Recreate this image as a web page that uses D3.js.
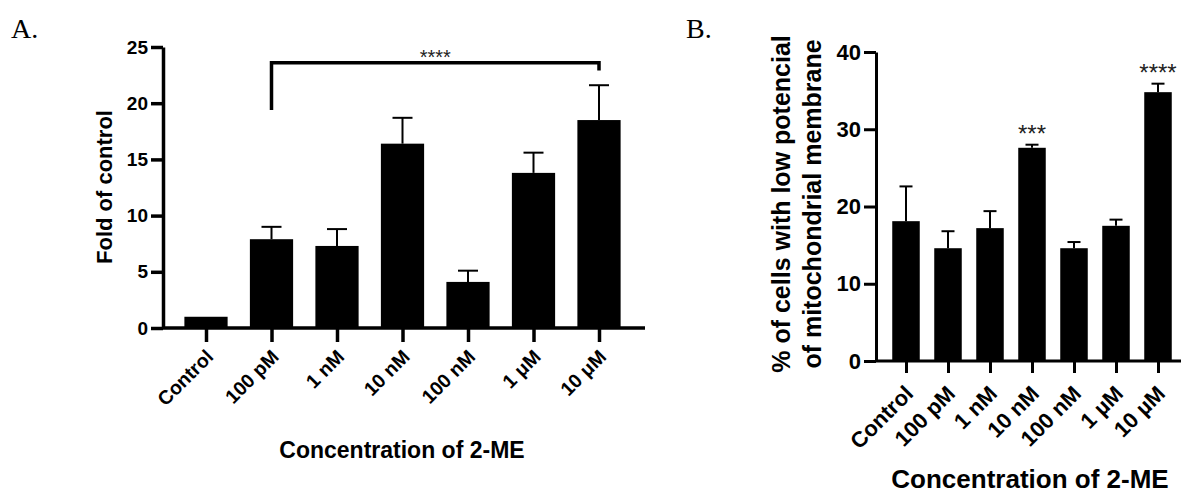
<!DOCTYPE html>
<html>
<head>
<meta charset="utf-8">
<script src="https://cdn.jsdelivr.net/npm/d3@7"></script>
<style>
  body { margin: 0; background: #fff; }
  svg { display: block; font-family: "Liberation Sans", Arial, sans-serif; }
  .panel-tag { font-family: "Liberation Serif", "Times New Roman", serif; }
</style>
</head>
<body>
<svg id="chart" width="1181" height="495"></svg>
<script>
// Shared categories
const categoriesA = ["Control", "100 pM", "1 nM", "10 nM", "100 nM", "1 \u03bcM", "10 \u03bcM"];
const categoriesB = ["Control", "100 pM", "1 nM", "10 nM", "100 nM", "1 \u00b5M", "10 \u00b5M"];

// Panel A: fold of control
const foldMean = [1.0, 7.9, 7.3, 16.4, 4.1, 13.8, 18.5];
const foldErr = [0, 1.1, 1.5, 2.3, 1.0, 1.8, 3.1];
const foldTicks = [0, 5, 10, 15, 20, 25];
// bracket: left leg height, bar height, right leg height
const bracketA = { from: "100 pM", to: "10 \u03bcM", heights: [19.4, 23.6, 22.9], label: "****" };

// Panel B: % of cells with low membrane potential
const lowPotMean = [18.1, 14.6, 17.2, 27.6, 14.6, 17.5, 34.8];
const lowPotErr = [4.5, 2.2, 2.2, 0.4, 0.8, 0.8, 1.1];
const lowPotTicks = [0, 10, 20, 30, 40];
const starsB = [{ cat: "10 nM", label: "***" }, { cat: "10 \u00b5M", label: "****" }];

const svg = d3.select("#chart");

function drawPanel(cfg) {
    const g = svg.append("g");
    const x = d3.scalePoint().domain(cfg.categories).range(cfg.xRange);
    const y = d3.scaleLinear().domain(cfg.yDomain).range(cfg.yRange);
    const barW = x.step() * cfg.barFrac;
    const rows = cfg.categories.map((c, i) => ({ cat: c, mean: cfg.mean[i], err: cfg.err[i] }));

    // bars
    g.selectAll("rect.bar").data(rows).join("rect")
        .attr("class", "bar")
        .attr("x", d => x(d.cat) - barW / 2)
        .attr("width", barW)
        .attr("y", d => y(d.mean))
        .attr("height", d => y(0) - y(d.mean))
        .attr("fill", "#000");

    // error bars (upper only)
    const eb = g.selectAll("g.err").data(rows.filter(d => d.err > 0)).join("g").attr("class", "err");
    eb.append("line")
        .attr("x1", d => x(d.cat)).attr("x2", d => x(d.cat))
        .attr("y1", d => y(d.mean)).attr("y2", d => y(d.mean + d.err))
        .attr("stroke", "#000").attr("stroke-width", cfg.errWidth);
    eb.append("line")
        .attr("x1", d => x(d.cat) - cfg.capW / 2).attr("x2", d => x(d.cat) + cfg.capW / 2)
        .attr("y1", d => y(d.mean + d.err)).attr("y2", d => y(d.mean + d.err))
        .attr("stroke", "#000").attr("stroke-width", cfg.errWidth);

    // y axis
    const yAxis = g.append("g")
        .attr("transform", `translate(${cfg.axisX},0)`)
        .call(d3.axisLeft(y).tickValues(cfg.ticks).tickSize(cfg.tickLen).tickSizeOuter(0).tickPadding(3));
    yAxis.select(".domain").attr("stroke", "#000").attr("stroke-width", cfg.axisWidth);
    yAxis.selectAll(".tick line").attr("stroke", "#000").attr("stroke-width", cfg.axisWidth);
    yAxis.selectAll(".tick text")
        .attr("fill", "#000")
        .style("font-size", cfg.tickFont + "px")
        .style("font-weight", "bold");

    // x axis
    g.append("line")
        .attr("x1", cfg.axisX).attr("x2", cfg.xAxisEnd)
        .attr("y1", y(0)).attr("y2", y(0))
        .attr("stroke", "#000").attr("stroke-width", cfg.axisWidth);
    const xAxis = g.append("g")
        .attr("transform", `translate(0,${y(0)})`)
        .call(d3.axisBottom(x).tickSize(cfg.xTickLen).tickSizeOuter(0));
    xAxis.select(".domain").remove();
    xAxis.selectAll(".tick line").attr("stroke", "#000").attr("stroke-width", cfg.axisWidth);
    xAxis.selectAll(".tick text")
        .attr("fill", "#000")
        .attr("text-anchor", "end")
        .attr("y", 0).attr("dy", 0)
        .attr("transform", `translate(${cfg.labelDx},${cfg.labelDy}) rotate(-45)`)
        .style("font-size", cfg.labelFont + "px")
        .style("font-weight", "bold");

    // axis titles
    g.append("text")
        .attr("x", cfg.xTitlePos[0]).attr("y", cfg.xTitlePos[1])
        .attr("text-anchor", "middle")
        .style("font-size", cfg.xTitleFont + "px").style("font-weight", "bold")
        .text("Concentration of 2-ME");
    cfg.yTitle.forEach((t, i) => {
        g.append("text")
            .attr("transform", `translate(${cfg.yTitlePos[0] + i * cfg.yTitleLead},${cfg.yTitlePos[1]}) rotate(-90)`)
            .attr("text-anchor", "middle")
            .style("font-size", cfg.yTitleFont + "px").style("font-weight", "bold")
            .text(t);
    });

    // panel tag
    g.append("text").attr("class", "panel-tag")
        .attr("x", cfg.tagPos[0]).attr("y", cfg.tagPos[1])
        .style("font-size", "28px")
        .text(cfg.tag);

    return { g, x, y };
}

const pA = drawPanel({
    categories: categoriesA, mean: foldMean, err: foldErr, ticks: foldTicks,
    xRange: [206, 599], yDomain: [0, 25], yRange: [328, 47], barFrac: 0.66,
    axisX: 163, xAxisEnd: 645, axisWidth: 3.5, tickLen: 12, xTickLen: 14,
    errWidth: 2, capW: 20, tickFont: 19,
    labelFont: 19.5, labelDx: 8, labelDy: 30,
    xTitlePos: [402, 458], xTitleFont: 23,
    yTitle: ["Fold of control"], yTitlePos: [112, 187], yTitleLead: 0, yTitleFont: 22,
    tag: "A.", tagPos: [11, 38]
});

// bracket for panel A
{
    const { g, x, y } = pA;
    const [h1, h2, h3] = bracketA.heights;
    const x1 = x(bracketA.from), x2 = x(bracketA.to);
    g.append("path")
        .attr("d", d3.line()([[x1, y(h1)], [x1, y(h2)], [x2, y(h2)], [x2, y(h3)]]))
        .attr("fill", "none").attr("stroke", "#000").attr("stroke-width", 3.5);
    g.append("text")
        .attr("x", (x1 + x2) / 2).attr("y", y(h2) + 1)
        .attr("text-anchor", "middle")
        .attr("fill", "#222")
        .style("font-size", "20px")
        .text(bracketA.label);
}

const pB = drawPanel({
    categories: categoriesB, mean: lowPotMean, err: lowPotErr, ticks: lowPotTicks,
    xRange: [906, 1158], yDomain: [0, 40], yRange: [361, 52], barFrac: 0.655,
    axisX: 876, xAxisEnd: 1181, axisWidth: 3, tickLen: 12, xTickLen: 12,
    errWidth: 2, capW: 13, tickFont: 22,
    labelFont: 22, labelDx: 8, labelDy: 34,
    xTitlePos: [1030, 488], xTitleFont: 26,
    yTitle: ["% of cells with low potencial", "of mitochondrial membrane"],
    yTitlePos: [790, 204], yTitleLead: 31, yTitleFont: 25,
    tag: "B.", tagPos: [686, 38]
});

// significance stars for panel B
{
    const { g, x, y } = pB;
    g.selectAll("text.star").data(starsB).join("text")
        .attr("class", "star")
        .attr("x", d => x(d.cat))
        .attr("y", d => {
            const i = categoriesB.indexOf(d.cat);
            return y(lowPotMean[i] + lowPotErr[i]) - 3;
        })
        .attr("text-anchor", "middle")
        .attr("fill", "#222")
        .style("font-size", "24px")
        .text(d => d.label);
}
</script>
</body>
</html>
